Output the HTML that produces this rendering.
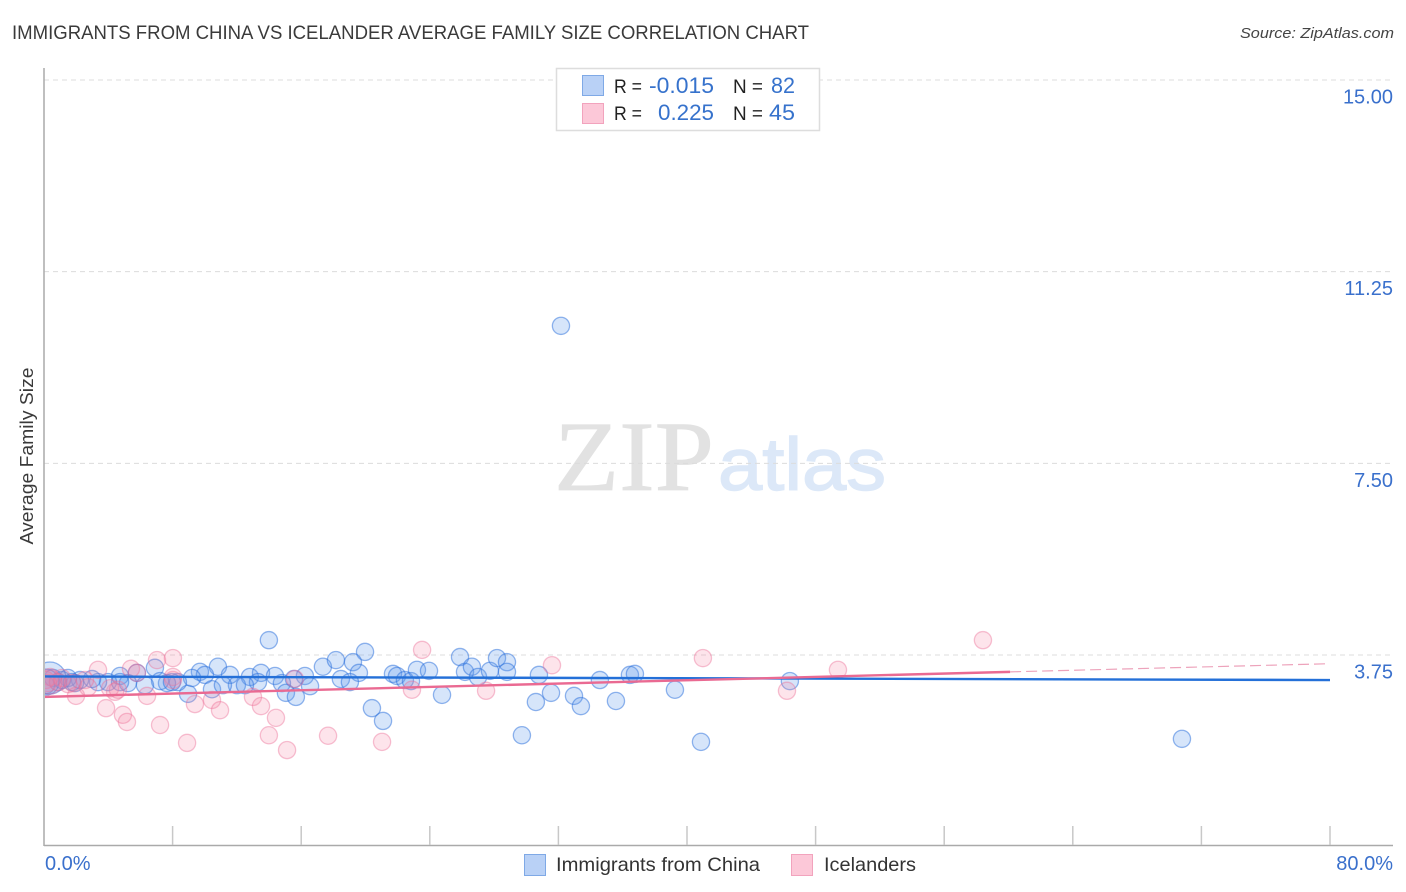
<!DOCTYPE html>
<html lang="en">
<head>
<meta charset="utf-8">
<title>Immigrants from China vs Icelander Average Family Size Correlation Chart</title>
<style>
html,body{margin:0;padding:0;background:#fff;}
svg{display:block;font-family:"Liberation Sans",sans-serif;}
</style>
</head>
<body>
<svg id="chart" width="1406" height="892" viewBox="0 0 1406 892" xmlns="http://www.w3.org/2000/svg">
  <defs><clipPath id="plot-clip"><rect x="45" y="60" width="1350" height="785"/></clipPath></defs>
  <rect x="0" y="0" width="1406" height="892" fill="#fff"/>
  <text x="12" y="39" font-size="19" fill="#3a3a3a" textLength="797" lengthAdjust="spacingAndGlyphs">IMMIGRANTS FROM CHINA VS ICELANDER AVERAGE FAMILY SIZE CORRELATION CHART</text>
  <text x="1394" y="38" font-size="15" font-style="italic" fill="#444" text-anchor="end" textLength="154" lengthAdjust="spacingAndGlyphs">Source: ZipAtlas.com</text>
  <g>
    <text x="554" y="490" font-family="'Liberation Serif',serif" font-size="100" fill="#e2e2e2" stroke="#e2e2e2" stroke-width="0.8" textLength="160" lengthAdjust="spacingAndGlyphs">ZIP</text>
    <text x="718" y="490" font-size="74" fill="#dce8f8" stroke="#dce8f8" stroke-width="1.4" textLength="168" lengthAdjust="spacingAndGlyphs">atlas</text>
  </g>
  <g id="grid"></g>
  <line x1="44" y1="68" x2="44" y2="846" stroke="#aaa" stroke-width="1.5"/>
  <line x1="44" y1="845.5" x2="1393" y2="845.5" stroke="#aaa" stroke-width="1.5"/>
  <g id="xticks"></g>
  <g id="ylabels"></g>
  <g id="xlabels"></g>
  <text transform="translate(33,456) rotate(-90)" font-size="18" fill="#3a3a3a" text-anchor="middle" textLength="177" lengthAdjust="spacingAndGlyphs">Average Family Size</text>
  <g clip-path="url(#plot-clip)">
    <g id="blue-points"></g>
    <g id="pink-points"></g>
    <g id="trends"></g>
  </g>
  <g>
    <rect x="556.5" y="68.5" width="263" height="62" fill="#fff" stroke="#ddd" stroke-width="1.5"/>
    <rect x="582.5" y="75.5" width="21" height="20" fill="#b9d1f6" stroke="#7fa9e6"/>
    <rect x="582.5" y="103.5" width="21" height="20" fill="#fcc8d8" stroke="#f2a3bd"/>
    <text x="614" y="93" font-size="19" fill="#222" textLength="28" lengthAdjust="spacingAndGlyphs">R =</text>
    <text x="714" y="93" font-size="22" fill="#3672cc" text-anchor="end" textLength="65" lengthAdjust="spacingAndGlyphs">-0.015</text>
    <text x="733" y="93" font-size="19" fill="#222" textLength="30" lengthAdjust="spacingAndGlyphs">N =</text>
    <text x="795" y="93" font-size="22" fill="#3672cc" text-anchor="end" textLength="24" lengthAdjust="spacingAndGlyphs">82</text>
    <text x="614" y="120" font-size="19" fill="#222" textLength="28" lengthAdjust="spacingAndGlyphs">R =</text>
    <text x="714" y="120" font-size="22" fill="#3672cc" text-anchor="end" textLength="56" lengthAdjust="spacingAndGlyphs">0.225</text>
    <text x="733" y="120" font-size="19" fill="#222" textLength="30" lengthAdjust="spacingAndGlyphs">N =</text>
    <text x="795" y="120" font-size="22" fill="#3672cc" text-anchor="end" textLength="26" lengthAdjust="spacingAndGlyphs">45</text>
  </g>
  <g>
    <rect x="524.5" y="854.5" width="21" height="21" fill="#b9d1f6" stroke="#7fa9e6"/>
    <text x="556" y="871" font-size="19.5" fill="#333" textLength="204" lengthAdjust="spacingAndGlyphs">Immigrants from China</text>
    <rect x="791.5" y="854.5" width="21" height="21" fill="#fcc8d8" stroke="#f2a3bd"/>
    <text x="824" y="871" font-size="19.5" fill="#333" textLength="92" lengthAdjust="spacingAndGlyphs">Icelanders</text>
  </g>
</svg>
<script>
const yTickValues = [15, 11.25, 7.5, 3.75];
const yTickLabels = ["15.00", "11.25", "7.50", "3.75"];
const xTickValues = [8, 16, 24, 32, 40, 48, 56, 64, 72, 80];
const xEndValues = [0, 80];
const xEndLabels = ["0.0%", "80.0%"];

const chinaShare = [13.99,17.35,10.82,9.70,6.90,4.73,5.78,11.57,10.01,12.81,13.50,14.37,16.23,15.55,13.31,14.80,16.55,15.05,15.67,10.45,8.96,9.21,12.00,11.13,12.50,8.33,7.65,7.22,7.96,6.28,5.22,3.98,3.36,2.99,2.24,1.49,0.56,0.87,1.93,4.73,19.97,19.22,18.16,19.59,18.47,19.03,20.40,21.09,21.71,21.96,22.45,22.83,23.20,23.95,24.76,25.88,26.19,26.62,27.00,27.74,28.18,28.80,28.80,30.79,31.54,30.60,29.73,32.97,33.40,34.58,35.58,32.16,36.45,36.76,39.25,40.87,46.40,70.79,0.12,1.12,1.74];
const chinaSize = [4.04,3.52,3.52,3.42,3.50,3.34,3.40,3.36,3.36,3.32,3.40,3.34,3.34,3.28,3.22,3.20,3.14,3.01,2.93,3.08,2.99,3.30,3.16,3.16,3.16,3.22,3.20,3.24,3.22,3.16,3.20,3.22,3.22,3.28,3.26,3.30,3.30,3.22,3.20,3.22,3.81,3.61,3.65,3.40,3.28,3.22,2.71,2.46,3.38,3.34,3.26,3.24,3.46,3.44,2.97,3.71,3.42,3.52,3.32,3.44,3.69,3.61,3.42,3.36,3.01,2.83,2.18,2.95,2.75,3.26,2.85,10.19,3.36,3.38,3.07,2.05,3.24,2.11,3.16,3.26,3.22];
const icelandShare = [7.03,8.02,3.36,5.41,5.78,8.02,1.99,3.86,4.91,5.16,7.22,8.90,6.41,9.39,10.45,10.95,13.00,13.50,14.43,13.99,15.12,15.61,17.67,4.42,4.11,2.74,1.80,0.87,0.37,1.12,23.52,21.03,22.89,27.50,31.60,40.99,46.22,49.39,58.41,0.12,0.25,1.49,2.55,4.60,8.02];
const icelandSize = [3.65,3.69,3.46,3.48,3.40,3.32,2.95,2.71,2.58,2.44,2.38,2.03,2.95,2.79,2.87,2.67,2.93,2.75,2.52,2.18,1.89,3.28,2.17,3.03,3.10,3.12,3.20,3.22,3.32,3.30,3.85,2.05,3.07,3.05,3.55,3.69,3.05,3.46,4.04,3.26,3.20,3.18,3.26,3.07,3.26];

const largeChinaShare = [0.37, 0.12];
const largeChinaSize = [3.30, 3.22];
const largeIcelandShare = [0.37];
const largeIcelandSize = [3.22];

const chinaTrendShare = [0, 80];
const chinaTrendSize = [3.33, 3.26];
const icelandTrendShare = [0, 60.1];
const icelandTrendSize = [2.93, 3.42];
const icelandDashShare = [60.1, 80];
const icelandDashSize = [3.42, 3.58];

const xScale = v => 44 + v * 16.075;
const yScale = v => 655 - (v - 3.75) * 51.11;
const NS = "http://www.w3.org/2000/svg";
const make = (tag, parentId, attrs) => {
  const el = document.createElementNS(NS, tag);
  Object.keys(attrs).forEach(k => el.setAttribute(k, attrs[k]));
  document.getElementById(parentId).appendChild(el);
  return el;
};

yTickValues.forEach((v, i) => {
  const grid = make("line", "grid", {x1: 44, x2: 1393, y1: yScale(v), y2: yScale(v), stroke: "#dcdcdc", "stroke-width": 1, "stroke-dasharray": "5 4"});
  
  
  const label = make("text", "ylabels", {x: 1393, y: yScale(v) + 23.5, "font-size": 20, fill: "#3a70cc", "text-anchor": "end"});
  label.textContent = yTickLabels[i];
  
  
});

xTickValues.forEach(v => {
  const tick = make("line", "xticks", {x1: xScale(v), x2: xScale(v), y1: 826, y2: 845, stroke: "#c8c8c8", "stroke-width": 1.5});
  
  
});

xEndValues.forEach((v, i) => {
  const label = make("text", "xlabels", {x: i === 0 ? xScale(v) + 1 : 1393, y: 870, "font-size": 20, fill: "#3a70cc", "text-anchor": i === 0 ? "start" : "end"});
  label.textContent = xEndLabels[i];
  
  
});

const blueStyle = {fill: "rgba(90,150,235,0.25)", stroke: "rgba(40,110,220,0.5)", "stroke-width": 1.3};
const pinkStyle = {fill: "rgba(245,130,165,0.22)", stroke: "rgba(235,110,150,0.42)", "stroke-width": 1.3};

chinaShare.forEach((v, i) => {
  const dot = make("circle", "blue-points", Object.assign({cx: xScale(v), cy: yScale(chinaSize[i]), r: 8.6}, blueStyle));
  
  
});
largeChinaShare.forEach((v, i) => {
  const dot = make("circle", "blue-points", Object.assign({cx: xScale(v), cy: yScale(largeChinaSize[i]), r: 16 - i * 3}, blueStyle));
  
  
});
icelandShare.forEach((v, i) => {
  const dot = make("circle", "pink-points", Object.assign({cx: xScale(v), cy: yScale(icelandSize[i]), r: 8.6}, pinkStyle));
  
  
});
largeIcelandShare.forEach((v, i) => {
  const dot = make("circle", "pink-points", Object.assign({cx: xScale(v), cy: yScale(largeIcelandSize[i]), r: 12}, pinkStyle));
  
  
});

const chinaLine = make("line", "trends", {x1: xScale(chinaTrendShare[0]), y1: yScale(chinaTrendSize[0]), x2: xScale(chinaTrendShare[1]), y2: yScale(chinaTrendSize[1]), stroke: "#2470d8", "stroke-width": 2.4});


const icelandLine = make("line", "trends", {x1: xScale(icelandTrendShare[0]), y1: yScale(icelandTrendSize[0]), x2: xScale(icelandTrendShare[1]), y2: yScale(icelandTrendSize[1]), stroke: "#ea6a92", "stroke-width": 2.4});


const icelandDash = make("line", "trends", {x1: xScale(icelandDashShare[0]), y1: yScale(icelandDashSize[0]), x2: xScale(icelandDashShare[1]), y2: yScale(icelandDashSize[1]), stroke: "#eda3bb", "stroke-width": 1.2, "stroke-dasharray": "11 5"});


</script>
</body>
</html>
